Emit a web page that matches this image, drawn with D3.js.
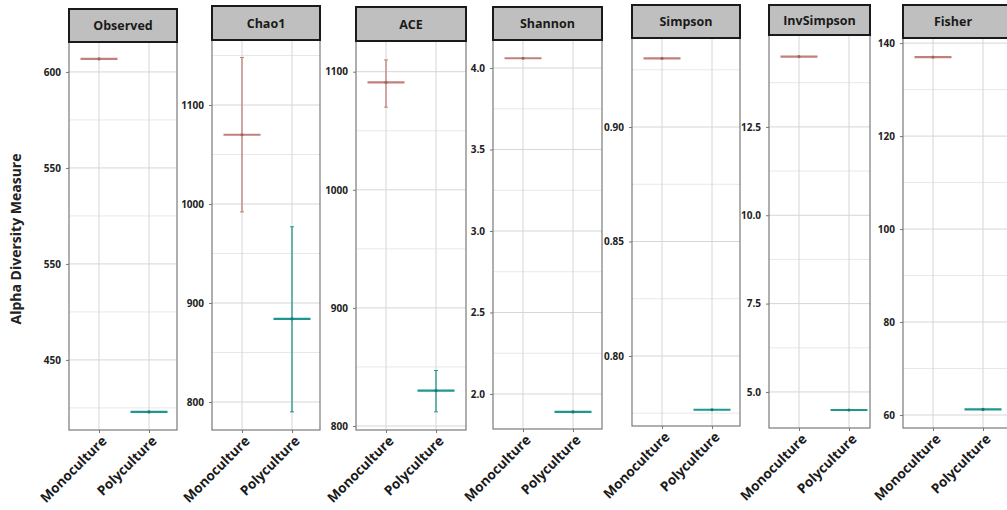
<!DOCTYPE html>
<html>
<head>
<meta charset="utf-8">
<script src="https://cdn.jsdelivr.net/npm/d3@7"></script>
<style>
  body { margin: 0; background: #fff; }
  svg { font-family: "Open Sans", "Liberation Sans", sans-serif; }
  .grid-major { stroke: #d6d6d6; stroke-width: 1; }
  .grid-minor { stroke: #e8e8e8; stroke-width: 1; }
</style>
</head>
<body>
<div id="chart"></div>
<script>
// values
const metrics = ["Observed", "Chao1", "ACE", "Shannon", "Simpson", "InvSimpson", "Fisher"];
const groups = ["Monoculture", "Polyculture"];

const monoMean = [606.8, 1070, 1091, 4.06, 0.930, 14.49, 137.0];
const monoLow  = [606.8,  992, 1070, 4.06, 0.930, 14.49, 137.0];
const monoHigh = [606.8, 1148, 1110, 4.06, 0.930, 14.49, 137.0];

const polyMean = [422.9, 884, 830, 1.89, 0.7765, 4.49, 61.2];
const polyLow  = [422.9, 790, 812, 1.89, 0.7765, 4.49, 61.2];
const polyHigh = [422.9, 977, 847, 1.89, 0.7765, 4.49, 61.2];

const yDomains = [[413.5, 615.6], [771.7, 1165.7], [796.6, 1126], [1.785, 4.172],
                  [0.7694, 0.9389], [3.98, 15.1], [57.2, 141.1]];
const tickValues = [[450, 500, 550, 600], [800, 900, 1000, 1100], [800, 900, 1000, 1100],
                    [2, 2.5, 3, 3.5, 4], [0.80, 0.85, 0.90], [5, 7.5, 10, 12.5],
                    [60, 80, 100, 120, 140]];
// the original figure really labels 500 as "550"
const tickLabels = [["450", "550", "550", "600"], ["800", "900", "1000", "1100"],
                    ["800", "900", "1000", "1100"], ["2.0", "2.5", "3.0", "3.5", "4.0"],
                    ["0.80", "0.85", "0.90"], ["5.0", "7.5", "10.0", "12.5"],
                    ["60", "80", "100", "120", "140"]];
const minorSteps = [50, 100, 100, 0.5, 0.05, 2.5, 20];

const colors = ["#c0807c", "#1f9690"];

// panel boxes (the panels are not evenly spaced in the source image)
const panels = [
  {l: 69,  r: 177,  ht: 9, t: 42, b: 430},
  {l: 212, r: 320,  ht: 6, t: 40, b: 430},
  {l: 356, r: 466,  ht: 7, t: 41, b: 430},
  {l: 493, r: 602,  ht: 7, t: 40, b: 429},
  {l: 632, r: 740,  ht: 5, t: 38, b: 426},
  {l: 769, r: 870,  ht: 5, t: 35, b: 428},
  {l: 903, r: 1012, ht: 5, t: 38, b: 428}
];

const svg = d3.select("#chart").append("svg")
              .attr("width", 1007)
              .attr("height", 510);

svg.append("text")
   .attr("transform", "translate(21,239) rotate(-90)")
   .attr("text-anchor", "middle")
   .style("font-size", "14px")
   .style("font-weight", "bold")
   .style("fill", "#222")
   .text("Alpha Diversity Measure");

metrics.forEach((m, i) => {
  const p = panels[i];
  const g = svg.append("g");

  const y = d3.scaleLinear().domain(yDomains[i]).range([p.b, p.t]);
  const x = d3.scalePoint().domain(groups).range([p.l + 30, p.l + 80]);

  // minor grid at half steps
  const step = minorSteps[i];
  const minors = [];
  for (let k = Math.ceil(yDomains[i][0] / step * 2); k <= Math.floor(yDomains[i][1] / step * 2); k++) {
    if (k % 2 !== 0) minors.push(k * step / 2);
  }
  g.selectAll(".grid-minor")
   .data(minors)
   .enter()
   .append("line")
   .attr("class", "grid-minor")
   .attr("x1", p.l).attr("x2", p.r)
   .attr("y1", d => y(d)).attr("y2", d => y(d));

  g.selectAll(".grid-major")
   .data(tickValues[i])
   .enter()
   .append("line")
   .attr("class", "grid-major")
   .attr("x1", p.l).attr("x2", p.r)
   .attr("y1", d => y(d)).attr("y2", d => y(d));

  g.selectAll(".grid-x")
   .data(groups)
   .enter()
   .append("line")
   .attr("class", "grid-major")
   .attr("x1", d => x(d)).attr("x2", d => x(d))
   .attr("y1", p.t).attr("y2", p.b);

  // panel frame
  g.append("rect")
   .attr("x", p.l).attr("y", p.t)
   .attr("width", p.r - p.l).attr("height", p.b - p.t)
   .attr("fill", "none")
   .attr("stroke", "#7a7a7a")
   .attr("stroke-width", 1.2);

  // strip header
  g.append("rect")
   .attr("x", p.l).attr("y", p.ht)
   .attr("width", p.r - p.l).attr("height", p.t - p.ht)
   .attr("fill", "#bfbfbf")
   .attr("stroke", "#1a1a1a")
   .attr("stroke-width", 2);

  g.append("text")
   .attr("x", (p.l + Math.min(p.r, 1007)) / 2 + (p.r > 1007 ? -2 : 0))
   .attr("y", (p.ht + p.t) / 2 + 4.5)
   .attr("text-anchor", "middle")
   .style("font-size", "12.5px")
   .style("font-weight", "bold")
   .style("fill", "#1a1a1a")
   .text(m);

  // y axis
  const yAxis = d3.axisLeft(y)
                  .tickValues(tickValues[i])
                  .tickSize(3)
                  .tickPadding(5)
                  .tickFormat((d, j) => tickLabels[i][j]);
  g.append("g")
   .attr("transform", "translate(" + p.l + ",0)")
   .call(yAxis)
   .call(a => a.select(".domain").remove())
   .call(a => a.selectAll("line").attr("stroke", "#777"))
   .call(a => a.selectAll("text")
               .style("font-size", "10px")
               .style("font-weight", "bold")
               .style("font-family", "'Open Sans', sans-serif")
               .attr("fill", "#222"));

  // x axis
  const xAxis = d3.axisBottom(x).tickSize(3).tickPadding(3);
  g.append("g")
   .attr("transform", "translate(0," + p.b + ")")
   .call(xAxis)
   .call(a => a.select(".domain").remove())
   .call(a => a.selectAll("line").attr("stroke", "#777"))
   .call(a => a.selectAll("text")
               .style("font-size", "13.5px")
               .style("font-weight", "bold")
               .style("font-family", "'Open Sans', sans-serif")
               .attr("fill", "#1a1a1a")
               .style("text-anchor", "end")
               .attr("dx", "-0.2em")
               .attr("dy", "0.6em")
               .attr("transform", "rotate(-45)"));

  // mean bars with error whiskers
  const rows = [
    {grp: groups[0], mean: monoMean[i], lo: monoLow[i], hi: monoHigh[i], c: colors[0]},
    {grp: groups[1], mean: polyMean[i], lo: polyLow[i], hi: polyHigh[i], c: colors[1]}
  ];

  const marks = g.selectAll(".mark")
                 .data(rows)
                 .enter()
                 .append("g");

  marks.filter(d => d.hi > d.lo)
       .append("line")
       .attr("x1", d => x(d.grp)).attr("x2", d => x(d.grp))
       .attr("y1", d => y(d.lo)).attr("y2", d => y(d.hi))
       .attr("stroke", d => d.c)
       .attr("stroke-width", 1.3);

  marks.filter(d => d.hi > d.lo)
       .selectAll(".cap")
       .data(d => [{v: d.lo, d}, {v: d.hi, d}])
       .enter()
       .append("line")
       .attr("x1", o => x(o.d.grp) - 2).attr("x2", o => x(o.d.grp) + 2)
       .attr("y1", o => y(o.v)).attr("y2", o => y(o.v))
       .attr("stroke", o => o.d.c)
       .attr("stroke-width", 1);

  marks.append("line")
       .attr("x1", d => x(d.grp) - 18.5).attr("x2", d => x(d.grp) + 18.5)
       .attr("y1", d => y(d.mean)).attr("y2", d => y(d.mean))
       .attr("stroke", d => d.c)
       .attr("stroke-width", 2.2);

  marks.append("circle")
       .attr("cx", d => x(d.grp))
       .attr("cy", d => y(d.mean))
       .attr("r", 1.6)
       .attr("fill", d => d3.color(d.c).darker(0.6));
});
</script>
</body>
</html>
